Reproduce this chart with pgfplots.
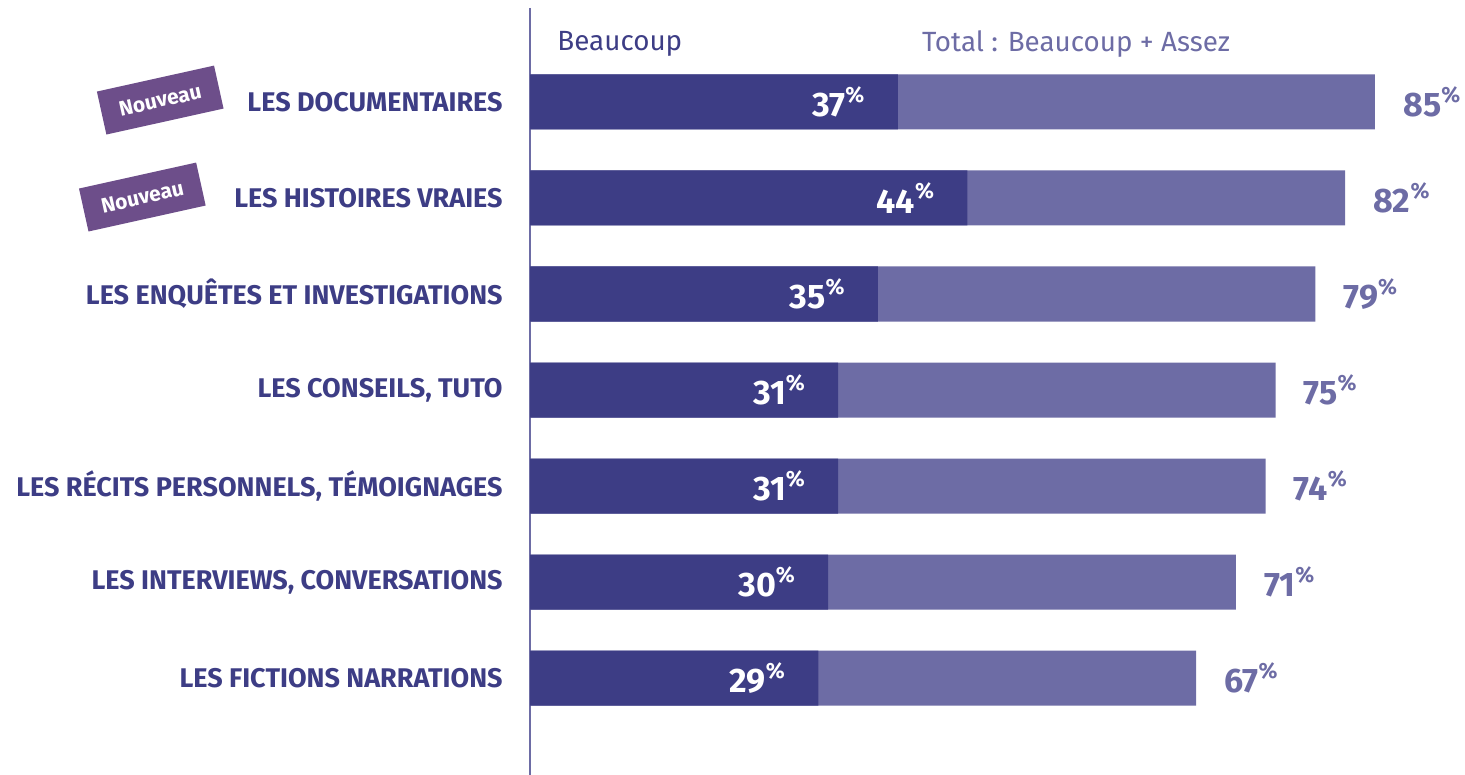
\documentclass[border=0pt]{standalone}
\usepackage{fontspec}
\setmainfont{Fira Sans}
\usepackage{pgfplots}
\pgfplotsset{compat=1.18}
\definecolor{darkbar}{HTML}{3D3D85}
\definecolor{lightbar}{HTML}{6D6CA5}
\definecolor{tagc}{HTML}{6D4E8A}
\newcommand\pct{\raisebox{.42em}{\fontsize{11}{10}\selectfont\%}}
\begin{document}
\begin{tikzpicture}
\useasboundingbox (0,0) rectangle (732.5pt,387.5pt);
\begin{axis}[
    at={(265pt,0pt)}, anchor=south west,
    scale only axis, width=465pt, height=383.5pt,
    xbar, bar width=27.5pt, bar shift=0pt,
    xmin=0, xmax=93.56, ymin=-0.979, ymax=7.01,
    y dir=reverse,
    axis x line=none, axis y line=left,
    y axis line style={-, draw=lightbar, line width=0.8pt},
    ytick={0,...,6}, major tick length=0pt,
    yticklabels={LES DOCUMENTAIRES, LES HISTOIRES VRAIES, LES ENQUÊTES ET INVESTIGATIONS,
        LES CONSEILS{,} TUTO, LES RÉCITS PERSONNELS{,} TÉMOIGNAGES,
        LES INTERVIEWS{,} CONVERSATIONS, LES FICTIONS NARRATIONS},
    yticklabel style={inner sep=0pt, xshift=-13.5pt, anchor=east, text=darkbar,
        font=\bfseries\fontsize{13.5}{13.5}\selectfont},
    /pgf/number format/assume math mode=true,
    clip=false,
    nodes near coords={\pgfmathprintnumber{\pgfplotspointmeta}\pct},
]
\addplot[fill=lightbar, draw=none,
    nodes near coords style={anchor=west, inner sep=0pt, xshift=14pt, text=lightbar,
        font=\bfseries\fontsize{17}{17}\selectfont}]
    coordinates {(85,0) (82,1) (79,2) (75,3) (74,4) (71,5) (67,6)};
\addplot[fill=darkbar, draw=none,
    nodes near coords style={anchor=east, inner sep=0pt, xshift=-16.5pt, text=white,
        font=\bfseries\fontsize{17}{17}\selectfont}]
    coordinates {(37,0) (44,1) (35,2) (31,3) (31,4) (30,5) (29,6)};
\node[anchor=west, inner sep=0pt, text=darkbar, font=\fontsize{13.9}{13.9}\selectfont]
    at (axis cs:2.72,-0.6) {Beaucoup};
\node[anchor=west, inner sep=0pt, text=lightbar, font=\fontsize{13.9}{13.9}\selectfont]
    at (axis cs:39.4,-0.6) {Total : Beaucoup + Assez};
\node[fill=tagc, rotate=12.5, minimum width=60pt, minimum height=22pt, inner sep=0pt,
    text=white, font=\bfseries\fontsize{10.5}{10.5}\selectfont]
    at (axis cs:-37.2,-0.02) {Nouveau};
\node[fill=tagc, rotate=12.5, minimum width=60pt, minimum height=22pt, inner sep=0pt,
    text=white, font=\bfseries\fontsize{10.5}{10.5}\selectfont]
    at (axis cs:-39.0,0.99) {Nouveau};
\end{axis}
\end{tikzpicture}
\end{document}
